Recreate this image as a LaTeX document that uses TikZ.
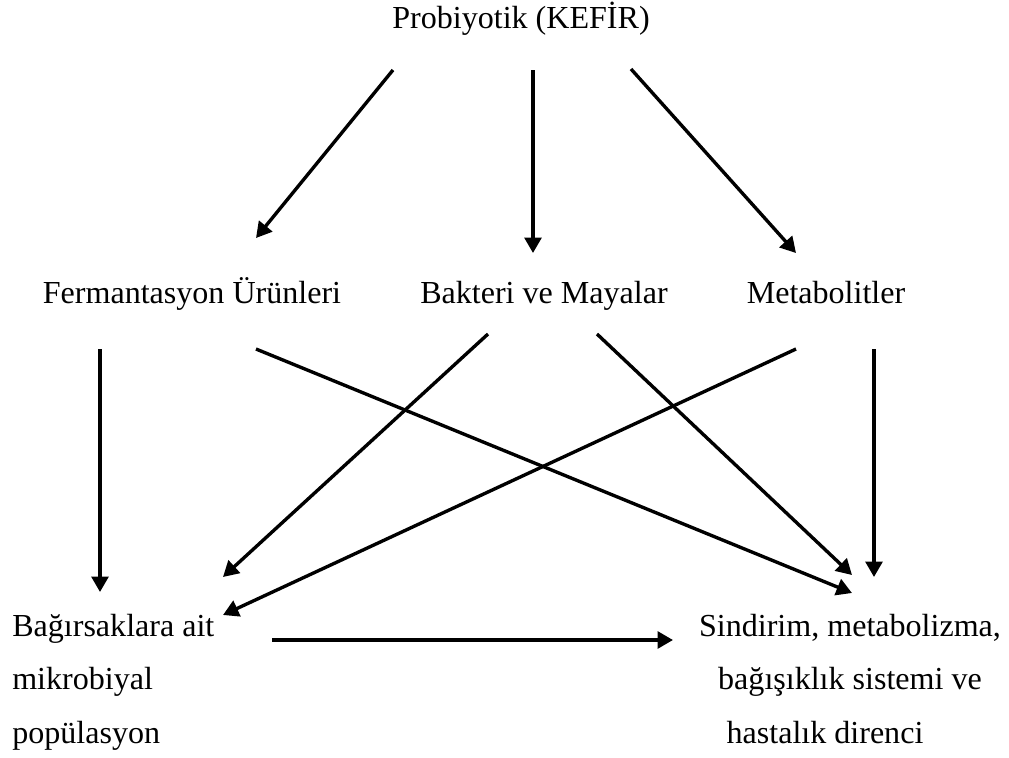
\documentclass[tikz,border=0pt]{standalone}
\usepackage{fontspec}
\setmainfont{Liberation Serif}
\usetikzlibrary{arrows.meta}

\begin{document}
\begin{tikzpicture}[
    x=0.025cm, y=-0.025cm,
    label/.style={inner sep=0pt, font=\fontsize{22.8pt}{37.7pt}\selectfont},
    arr/.style={line width=2.4pt, -{Triangle[length=11pt,width=12pt]}}
]
    \useasboundingbox (0,0) rectangle (1009,758);

    % Nodes
    \node[label, anchor=base] (prob) at (521,28) {Probiyotik (KEFİR)};

    \node[label, anchor=base] (ferm) at (192,303) {Fermantasyon Ürünleri};
    \node[label, anchor=base] (bakt) at (544,303) {Bakteri ve Mayalar};
    \node[label, anchor=base] (meta) at (826,303) {Metabolitler};

    % multi-line nodes: base is the last line
    \node[label, anchor=base west, align=left] (barsak) at (12,743)
        {Bağırsaklara ait\\mikrobiyal\\popülasyon};
    \node[label, anchor=base, align=center] (sindirim) at (850,743)
        {Sindirim, metabolizma,\\bağışıklık sistemi ve\hspace*{11.4pt}\\hastalık direnci\hspace*{35.5pt}};

    % Arrow ends
    \coordinate (prob-l) at (393,70);
    \coordinate (prob-m) at (533,70);
    \coordinate (prob-r) at (631,69);
    \coordinate (ferm-in) at (256,238);
    \coordinate (bakt-in) at (533,253);
    \coordinate (meta-in) at (796,253);

    \coordinate (ferm-d) at (100,349);
    \coordinate (ferm-r) at (256,349);
    \coordinate (bakt-l) at (488,334);
    \coordinate (bakt-r) at (597,334);
    \coordinate (meta-l) at (796,349);
    \coordinate (meta-d) at (874,349);

    \coordinate (barsak-in1) at (100,592);
    \coordinate (barsak-in2) at (223,577);
    \coordinate (barsak-in3) at (223,615);
    \coordinate (barsak-out) at (272,640);

    \coordinate (sind-in1) at (852,593);
    \coordinate (sind-in2) at (852,575);
    \coordinate (sind-in3) at (874,577);
    \coordinate (sind-in4) at (673,640);

    % Connectors
    \draw[arr] (prob-l) -- (ferm-in);
    \draw[arr] (prob-m) -- (bakt-in);
    \draw[arr] (prob-r) -- (meta-in);

    \draw[arr] (ferm-d) -- (barsak-in1);
    \draw[arr] (ferm-r) -- (sind-in1);
    \draw[arr] (bakt-l) -- (barsak-in2);
    \draw[arr] (bakt-r) -- (sind-in2);
    \draw[arr] (meta-l) -- (barsak-in3);
    \draw[arr] (meta-d) -- (sind-in3);

    \draw[arr] (barsak-out) -- (sind-in4);
\end{tikzpicture}
\end{document}
